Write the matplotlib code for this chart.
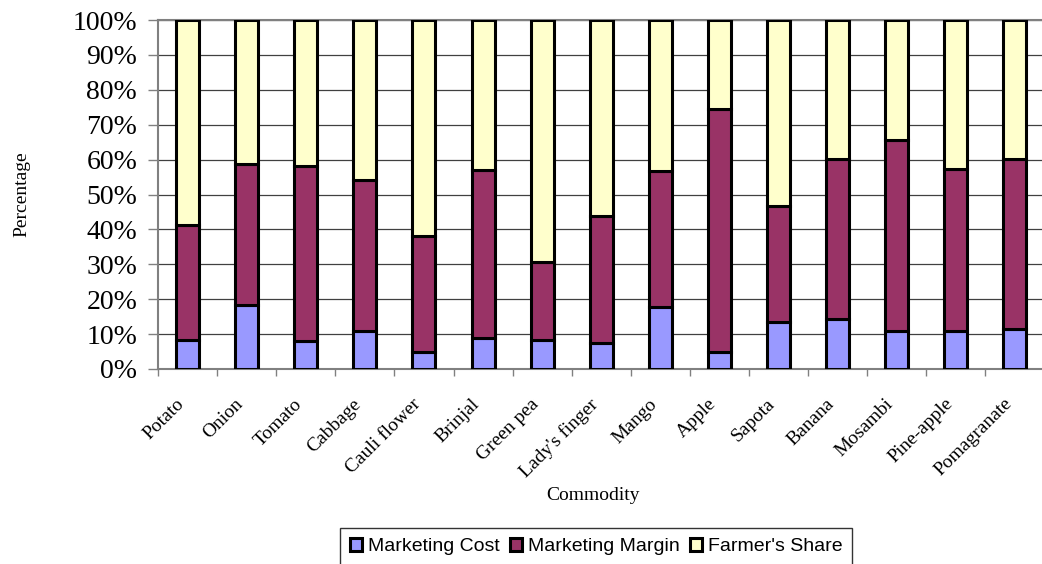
#/usr/bin/env python3
import matplotlib
matplotlib.use("Agg")
import matplotlib.pyplot as plt
import numpy as np
from matplotlib.ticker import FixedLocator, PercentFormatter

commodities = ["Potato", "Onion", "Tomato", "Cabbage", "Cauli flower", "Brinjal",
               "Green pea", "Lady's finger", "Mango", "Apple", "Sapota", "Banana",
               "Mosambi", "Pine-apple", "Pomagranate"]
marketing_cost = [8.3, 18.2, 7.9, 10.8, 4.9, 8.9, 8.3, 7.4, 17.7, 4.9, 13.5, 14.2, 10.8, 11.0, 11.4]
marketing_margin = [33.0, 40.5, 50.3, 43.4, 33.2, 48.1, 22.4, 36.4, 38.9, 69.7, 33.2, 45.9, 54.8, 46.4, 48.9]
farmers_share = [58.7, 41.3, 41.8, 45.8, 61.9, 43.0, 69.3, 56.2, 43.4, 25.4, 53.3, 39.9, 34.4, 42.6, 39.7]
series_names = ["Marketing Cost", "Marketing Margin", "Farmer's Share"]
colors = ["#9999FF", "#993366", "#FFFFCC"]


def main():
    W, H = 1042, 564
    fig = plt.figure(figsize=(W / 100, H / 100), dpi=100)
    ax = fig.add_axes([158 / W, (H - 369) / H, 886.5 / W, 349 / H])

    x = np.arange(len(commodities))
    bottom = np.zeros(len(commodities))
    handles = []
    for vals, name, c in zip([marketing_cost, marketing_margin, farmers_share], series_names, colors):
        b = ax.bar(x, vals, width=0.39, bottom=bottom, color=c, edgecolor="black",
                   linewidth=2.2, label=name, zorder=3)
        handles.append(b)
        bottom = bottom + np.array(vals)

    ax.set_xlim(-0.5, len(commodities) - 0.5)
    ax.set_ylim(0, 100)
    ax.yaxis.set_major_locator(FixedLocator(np.arange(0, 101, 10)))
    ax.yaxis.set_major_formatter(PercentFormatter(decimals=0))
    ax.yaxis.grid(True, color="#404040", linewidth=0.9, zorder=0)
    ax.set_axisbelow(True)

    # ticks at category borders, labels at centres
    ax.xaxis.set_major_locator(FixedLocator(np.arange(-0.5, len(commodities), 1.0)))
    ax.xaxis.set_major_formatter(plt.NullFormatter())
    ax.xaxis.set_minor_locator(FixedLocator(x))
    ax.set_xticklabels(commodities, minor=True, rotation=45, ha="right", va="top",
                       fontsize=14, family="Liberation Serif")
    ax.tick_params(axis="x", which="minor", length=0, pad=19)
    ax.tick_params(axis="x", which="major", length=5, color="#808080", width=1)
    ax.tick_params(axis="y", length=7, color="#808080", width=1, pad=8)
    for lbl in ax.get_yticklabels():
        lbl.set_family("Liberation Serif")
        lbl.set_fontsize(20)

    for s in ["left", "bottom", "top"]:
        ax.spines[s].set_color("#808080")
        ax.spines[s].set_linewidth(1.5)
    ax.spines["right"].set_visible(False)

    fig.text(22 / W, 1 - 194 / H, "Percentage", rotation=90, ha="center", va="center",
             fontsize=14, family="Liberation Serif")
    fig.text(593 / W, 1 - 496 / H, "Commodity", ha="center", va="center",
             fontsize=14, family="Liberation Serif")

    leg = fig.legend(handles=handles, labels=series_names, ncol=3, loc="upper left",
                     bbox_to_anchor=(340 / W, 1 - 528 / H), borderaxespad=0,
                     prop={"family": "Liberation Sans", "size": 14},
                     handlelength=0.65, handleheight=0.65, handletextpad=0.3,
                     columnspacing=0.5, borderpad=0.5, fancybox=False)
    leg.get_frame().set_edgecolor("black")
    leg.get_frame().set_linewidth(1)

    plt.savefig("out.png", dpi=100)


if __name__ == "__main__":
    main()
